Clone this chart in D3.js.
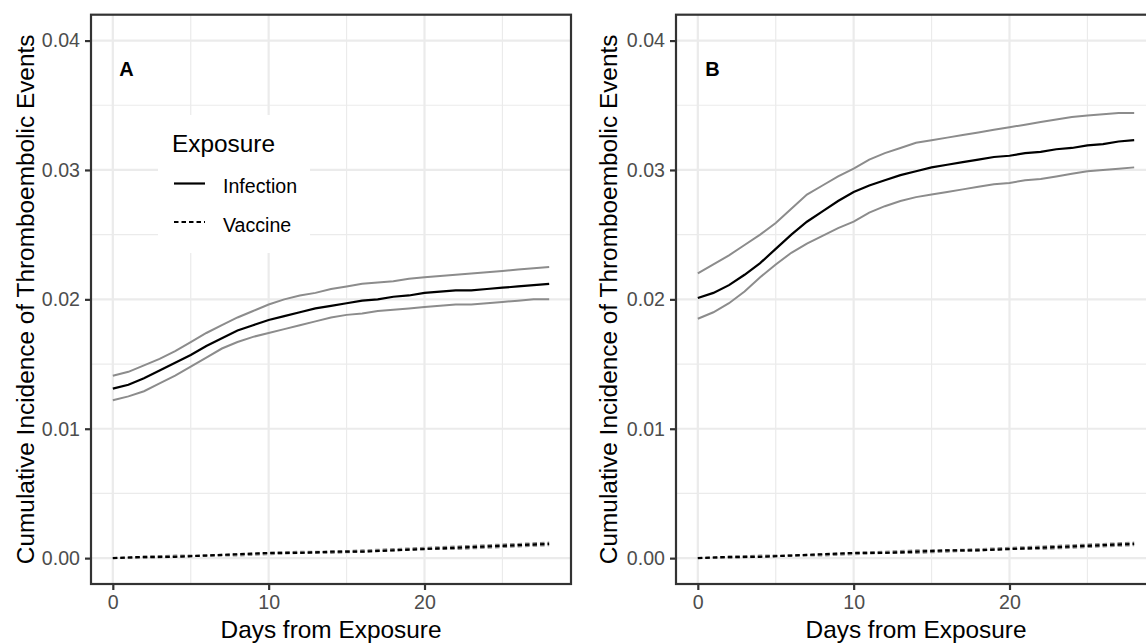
<!DOCTYPE html>
<html>
<head>
<meta charset="utf-8">
<script src="https://cdn.jsdelivr.net/npm/d3@7"></script>
<style>
  html, body { margin: 0; padding: 0; background: #fff; }
  svg { display: block; font-family: "Liberation Sans", Arial, sans-serif; }
</style>
</head>
<body>
<svg id="chart" width="1146" height="644"></svg>
<script>
// ---------------- DATA ----------------
const days = [0,1,2,3,4,5,6,7,8,9,10,11,12,13,14,15,16,17,18,19,20,21,22,23,24,25,26,27,28];

// Panel A
const infA      = [0.0131,0.0134,0.0139,0.0145,0.0151,0.0157,0.0164,0.0170,0.0176,0.0180,0.0184,0.0187,0.0190,0.0193,0.0195,0.0197,0.0199,0.0200,0.0202,0.0203,0.0205,0.0206,0.0207,0.0207,0.0208,0.0209,0.0210,0.0211,0.0212];
const infA_hi   = [0.0141,0.0144,0.0149,0.0154,0.0160,0.0167,0.0174,0.0180,0.0186,0.0191,0.0196,0.0200,0.0203,0.0205,0.0208,0.0210,0.0212,0.0213,0.0214,0.0216,0.0217,0.0218,0.0219,0.0220,0.0221,0.0222,0.0223,0.0224,0.0225];
const infA_lo   = [0.0122,0.0125,0.0129,0.0135,0.0141,0.0148,0.0155,0.0162,0.0167,0.0171,0.0174,0.0177,0.0180,0.0183,0.0186,0.0188,0.0189,0.0191,0.0192,0.0193,0.0194,0.0195,0.0196,0.0196,0.0197,0.0198,0.0199,0.0200,0.0200];

// Panel B
const infB      = [0.0201,0.0205,0.0211,0.0219,0.0228,0.0239,0.0250,0.0260,0.0268,0.0276,0.0283,0.0288,0.0292,0.0296,0.0299,0.0302,0.0304,0.0306,0.0308,0.0310,0.0311,0.0313,0.0314,0.0316,0.0317,0.0319,0.0320,0.0322,0.0323];
const infB_hi   = [0.0220,0.0227,0.0234,0.0242,0.0250,0.0259,0.0270,0.0281,0.0288,0.0295,0.0301,0.0308,0.0313,0.0317,0.0321,0.0323,0.0325,0.0327,0.0329,0.0331,0.0333,0.0335,0.0337,0.0339,0.0341,0.0342,0.0343,0.0344,0.0344];
const infB_lo   = [0.0185,0.0190,0.0197,0.0206,0.0217,0.0227,0.0236,0.0243,0.0249,0.0255,0.0260,0.0267,0.0272,0.0276,0.0279,0.0281,0.0283,0.0285,0.0287,0.0289,0.0290,0.0292,0.0293,0.0295,0.0297,0.0299,0.0300,0.0301,0.0302];

// Vaccine (both panels), sampled every 2 days
const vDays     = [0,2,4,6,8,10,12,14,16,18,20,22,24,26,28];
const vacA      = [0.0000,0.0001,0.0001,0.0002,0.0003,0.0004,0.0004,0.0005,0.0005,0.0006,0.0007,0.0008,0.0009,0.0010,0.0011];
const vacA_hi   = [0.0000,0.0001,0.0002,0.0002,0.0003,0.0004,0.0005,0.0005,0.0006,0.0007,0.0008,0.0009,0.0010,0.0011,0.0012];
const vacA_lo   = [0.0000,0.0000,0.0001,0.0002,0.0002,0.0003,0.0004,0.0004,0.0005,0.0006,0.0007,0.0007,0.0008,0.0009,0.0010];
const vacB      = [0.0000,0.0001,0.0001,0.0002,0.0003,0.0004,0.0004,0.0005,0.0006,0.0006,0.0007,0.0008,0.0009,0.0010,0.0011];
const vacB_hi   = [0.0000,0.0001,0.0002,0.0002,0.0003,0.0004,0.0005,0.0006,0.0006,0.0007,0.0008,0.0009,0.0010,0.0011,0.0012];
const vacB_lo   = [0.0000,0.0000,0.0001,0.0002,0.0002,0.0003,0.0004,0.0004,0.0005,0.0006,0.0007,0.0007,0.0008,0.0009,0.0010];

const xTicks = [0, 10, 20];
const xMinor = [5, 15, 25];
const yTicks = [0, 0.01, 0.02, 0.03, 0.04];
const yMinor = [0.005, 0.015, 0.025, 0.035];
const xLabel = "Days from Exposure";
const yLabel = "Cumulative Incidence of Thromboembolic Events";
const legendTitle = "Exposure";
const legendItems = ["Infection", "Vaccine"];

// ---------------- DRAW ----------------
const svg = d3.select("#chart");
svg.append("rect").attr("width", 1146).attr("height", 644).attr("fill", "#fff");

const TICK_FS = 19.6, TITLE_FS = 24.4;
const GRID = "#ebebeb", BORDER = "#333333", CI = "#8c8c8c";

function drawPanel(o) {
  const x = d3.scaleLinear().domain([-1.4, 29.4]).range([o.left, o.left + 480]);
  const y = d3.scaleLinear().domain([-0.002, 0.042]).range([584, 14.7]);
  const g = svg.append("g");
  const clipId = "clip" + o.letter;
  svg.append("clipPath").attr("id", clipId).append("rect")
    .attr("x", o.left).attr("y", 14.7).attr("width", 480).attr("height", 584 - 14.7);

  const grid = g.append("g");
  grid.selectAll(".xm").data(xMinor).join("line")
    .attr("x1", d => x(d)).attr("x2", d => x(d)).attr("y1", 14.7).attr("y2", 584)
    .attr("stroke", GRID).attr("stroke-width", 1.2);
  grid.selectAll(".ym").data(yMinor).join("line")
    .attr("y1", d => y(d)).attr("y2", d => y(d)).attr("x1", o.left).attr("x2", o.left + 480)
    .attr("stroke", GRID).attr("stroke-width", 1.2);
  grid.selectAll(".xM").data(xTicks).join("line")
    .attr("x1", d => x(d)).attr("x2", d => x(d)).attr("y1", 14.7).attr("y2", 584)
    .attr("stroke", GRID).attr("stroke-width", 2.2);
  grid.selectAll(".yM").data(yTicks).join("line")
    .attr("y1", d => y(d)).attr("y2", d => y(d)).attr("x1", o.left).attr("x2", o.left + 480)
    .attr("stroke", GRID).attr("stroke-width", 2.2);

  const data = g.append("g").attr("clip-path", `url(#${clipId})`);
  const line = (xs, ys) => d3.line().x((d, i) => x(xs[i])).y(d => y(d))(ys);

  [o.vac_lo, o.vac_hi].forEach(s => data.append("path").attr("d", line(vDays, s))
    .attr("fill", "none").attr("stroke", CI).attr("stroke-width", 2).attr("stroke-dasharray", "4.5,3"));
  data.append("path").attr("d", line(vDays, o.vac))
    .attr("fill", "none").attr("stroke", "#000").attr("stroke-width", 2.2).attr("stroke-dasharray", "4.5,3");
  [o.inf_lo, o.inf_hi].forEach(s => data.append("path").attr("d", line(days, s))
    .attr("fill", "none").attr("stroke", CI).attr("stroke-width", 2));
  data.append("path").attr("d", line(days, o.inf))
    .attr("fill", "none").attr("stroke", "#000").attr("stroke-width", 2.2);

  g.append("rect").attr("x", o.left).attr("y", 14.7).attr("width", 480).attr("height", 584 - 14.7)
    .attr("fill", "none").attr("stroke", BORDER).attr("stroke-width", 2.2);

  const ax = g.append("g").attr("transform", "translate(0,584)")
    .call(d3.axisBottom(x).tickValues(xTicks).tickSize(6).tickPadding(5).tickFormat(d3.format("d")));
  const ay = g.append("g").attr("transform", `translate(${o.left},0)`)
    .call(d3.axisLeft(y).tickValues(yTicks).tickSize(6).tickPadding(5).tickFormat(d3.format(".2f")));
  [ax, ay].forEach(a => {
    a.select(".domain").remove();
    a.selectAll(".tick line").attr("stroke", BORDER).attr("stroke-width", 2.2);
    a.selectAll(".tick text").attr("fill", "#4d4d4d").style("font-size", TICK_FS + "px")
      .style("font-family", "'Liberation Sans', Arial, sans-serif");
  });

  g.append("text").attr("x", o.left + 240).attr("y", 637.5).attr("text-anchor", "middle")
    .style("font-size", TITLE_FS + "px").attr("fill", "#000").text(xLabel);
  g.append("text").attr("transform", `translate(${o.yTitleX},${(14.7 + 584) / 2}) rotate(-90)`)
    .attr("text-anchor", "middle").style("font-size", TITLE_FS + "px").attr("fill", "#000").text(yLabel);

  g.append("text").attr("x", x(0) + o.letterDx).attr("y", 76).style("font-size", "20px")
    .style("font-weight", "bold").attr("fill", "#000").text(o.letter);

  return { x, y, g };
}

drawPanel({ left: 91, letter: "A", letterDx: 6.5, yTitleX: 34,
  inf: infA, inf_hi: infA_hi, inf_lo: infA_lo, vac: vacA, vac_hi: vacA_hi, vac_lo: vacA_lo });
drawPanel({ left: 676, letter: "B", letterDx: 7.5, yTitleX: 617,
  inf: infB, inf_hi: infB_hi, inf_lo: infB_lo, vac: vacB, vac_hi: vacB_hi, vac_lo: vacB_lo });

// legend (panel A only)
const lg = svg.append("g");
lg.append("rect").attr("x", 158).attr("y", 115).attr("width", 152).attr("height", 138).attr("fill", "#fff");
lg.append("text").attr("x", 172).attr("y", 151.5).style("font-size", TITLE_FS + "px").attr("fill", "#000").text(legendTitle);
const keyY = [183.5, 222];
lg.selectAll(".key").data(legendItems).join("line")
  .attr("x1", 174).attr("x2", 205).attr("y1", (d, i) => keyY[i]).attr("y2", (d, i) => keyY[i])
  .attr("stroke", "#000").attr("stroke-width", 2.2)
  .attr("stroke-dasharray", (d, i) => i === 1 ? "4.5,3" : null);
lg.selectAll(".lab").data(legendItems).join("text")
  .attr("x", 223).attr("y", (d, i) => keyY[i] + 9.5)
  .style("font-size", TICK_FS + "px").attr("fill", "#000").text(d => d);
</script>
</body>
</html>
